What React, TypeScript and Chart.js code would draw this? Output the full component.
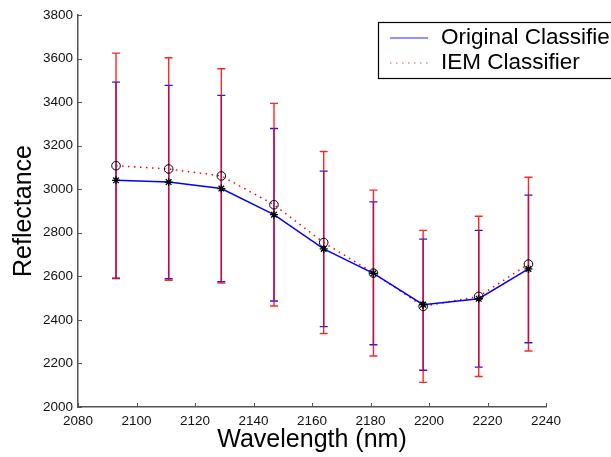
import React, { useEffect, useRef } from "react";
import { Chart, registerables } from "chart.js";

Chart.register(...registerables);

// ---- data ----
const wavelengths = [2093, 2111, 2129, 2147, 2164, 2181, 2198, 2217, 2234];
const originalMeans = [3041, 3033, 3003, 2883, 2726, 2614, 2470, 2497, 2634];
const originalErr = [451, 444, 428, 396, 357, 328, 301, 314, 339];
const iemMeans = [3108, 3093, 3061, 2929, 2755, 2615, 2462, 2508, 2656];
const iemErr = [517, 511, 492, 465, 418, 381, 349, 368, 399];
const seriesNames = ["Original Classifier", "IEM Classifier"];
const xTicks = [2080, 2100, 2120, 2140, 2160, 2180, 2200, 2220, 2240];
const yTicks = [2000, 2200, 2400, 2600, 2800, 3000, 3200, 3400, 3600, 3800];

const FONT = "'Liberation Sans', Arial, Helvetica, sans-serif";
const AXIS_COLOR = "#555";

const errorBarPlugin = {
  id: "errorBars",
  beforeDatasetsDraw(chart: any) {
    const { ctx, scales } = chart;
    const x = scales.x;
    const y = scales.y;
    const groups = [
      { means: originalMeans, errs: originalErr, color: "#1a1aff" },
      { means: iemMeans, errs: iemErr, color: "rgba(255,0,0,0.85)" },
    ];
    ctx.save();
    ctx.lineWidth = 1.4;
    for (const g of groups) {
      ctx.strokeStyle = g.color;
      for (let i = 0; i < wavelengths.length; i++) {
        const px = x.getPixelForValue(wavelengths[i]);
        const top = y.getPixelForValue(g.means[i] + g.errs[i]);
        const bot = y.getPixelForValue(g.means[i] - g.errs[i]);
        ctx.beginPath();
        ctx.moveTo(px, top);
        ctx.lineTo(px, bot);
        ctx.moveTo(px - 4, top);
        ctx.lineTo(px + 4, top);
        ctx.moveTo(px - 4, bot);
        ctx.lineTo(px + 4, bot);
        ctx.stroke();
      }
    }
    ctx.restore();
  },
};

const inwardTicksPlugin = {
  id: "inwardTicks",
  afterDraw(chart: any) {
    const { ctx, scales, chartArea } = chart;
    ctx.save();
    ctx.strokeStyle = AXIS_COLOR;
    ctx.lineWidth = 1;
    ctx.beginPath();
    for (const v of xTicks) {
      const px = Math.round(scales.x.getPixelForValue(v)) + 0.5;
      ctx.moveTo(px, chartArea.bottom);
      ctx.lineTo(px, chartArea.bottom - 4);
    }
    for (const v of yTicks) {
      const py = Math.round(scales.y.getPixelForValue(v)) + 0.5;
      ctx.moveTo(chartArea.left, py);
      ctx.lineTo(chartArea.left + 4, py);
    }
    ctx.stroke();
    ctx.restore();
  },
};

const legendPlugin = {
  id: "customLegend",
  afterDraw(chart: any) {
    const { ctx } = chart;
    ctx.save();
    ctx.fillStyle = "#fff";
    ctx.fillRect(378, 22, 260, 57);
    ctx.strokeStyle = "#000";
    ctx.lineWidth = 1.2;
    ctx.strokeRect(378.5, 22.5, 260, 56);
    // sample lines
    ctx.lineWidth = 1.5;
    ctx.strokeStyle = "#7070ff";
    ctx.beginPath();
    ctx.moveTo(390, 38);
    ctx.lineTo(428, 38);
    ctx.stroke();
    ctx.strokeStyle = "#ff8080";
    ctx.setLineDash([1.5, 4.5]);
    ctx.beginPath();
    ctx.moveTo(390, 63);
    ctx.lineTo(428, 63);
    ctx.stroke();
    ctx.setLineDash([]);
    ctx.fillStyle = "#000";
    ctx.font = `22.5px ${FONT}`;
    ctx.textBaseline = "middle";
    ctx.textAlign = "left";
    ctx.fillText(seriesNames[0], 441, 38);
    ctx.fillText(seriesNames[1], 441, 63);
    ctx.restore();
  },
};

export default function App() {
  const ref = useRef<HTMLCanvasElement | null>(null);

  useEffect(() => {
    document.body.style.margin = "0";
    const canvas = ref.current;
    if (!canvas) return;
    const chart = new Chart(canvas, {
      type: "line",
      data: {
        datasets: [
          {
            label: seriesNames[0],
            data: wavelengths.map((w, i) => ({ x: w, y: originalMeans[i] })),
            borderColor: "#0000ff",
            borderWidth: 1.5,
            pointStyle: "star",
            pointRadius: 4,
            pointBorderColor: "#000",
            pointBackgroundColor: "#000",
            pointBorderWidth: 1.3,
            tension: 0,
          },
          {
            label: seriesNames[1],
            data: wavelengths.map((w, i) => ({ x: w, y: iemMeans[i] })),
            borderColor: "#ff0000",
            borderWidth: 1.5,
            borderDash: [1.5, 4.5],
            pointStyle: "circle",
            pointRadius: 4.3,
            pointBorderColor: "#000",
            pointBackgroundColor: "rgba(0,0,0,0)",
            pointBorderWidth: 1,
            tension: 0,
          },
        ],
      },
      options: {
        responsive: false,
        animation: false,
        devicePixelRatio: 1,
        layout: { padding: { top: 15, right: 65, left: 0, bottom: 0 } },
        plugins: {
          legend: { display: false },
          tooltip: { enabled: false },
        },
        scales: {
          x: {
            type: "linear",
            min: 2080,
            max: 2240,
            afterBuildTicks: (s: any) => {
              s.ticks = xTicks.map((v) => ({ value: v }));
            },
            afterFit: (s: any) => {
              s.height = 50;
            },
            grid: { display: false, drawTicks: false },
            border: { display: true, color: AXIS_COLOR, width: 1.5 },
            ticks: {
              color: "#111",
              font: { family: FONT, size: 13.5 },
              padding: 6,
              maxRotation: 0,
              autoSkip: false,
              callback: (v: any) => String(v),
            },
            title: {
              display: true,
              text: "Wavelength (nm)",
              color: "#000",
              font: { family: FONT, size: 25 },
              padding: { top: 0, bottom: 2 },
            },
          },
          y: {
            type: "linear",
            min: 2000,
            max: 3800,
            afterBuildTicks: (s: any) => {
              s.ticks = yTicks.map((v) => ({ value: v }));
            },
            afterFit: (s: any) => {
              s.width = 78;
            },
            grid: { display: false, drawTicks: false },
            border: { display: true, color: AXIS_COLOR, width: 1.5 },
            ticks: {
              color: "#111",
              font: { family: FONT, size: 13.5 },
              padding: 5,
              autoSkip: false,
              callback: (v: any) => String(v),
            },
            title: {
              display: true,
              text: "Reflectance",
              color: "#000",
              font: { family: FONT, size: 25 },
              padding: { top: 9, bottom: 0 },
            },
          },
        },
      },
      plugins: [errorBarPlugin, inwardTicksPlugin, legendPlugin],
    } as any);
    return () => chart.destroy();
  }, []);

  return (
    <div style={{ width: 611, height: 457, background: "#fff" }}>
      <canvas ref={ref} width={611} height={457} style={{ display: "block" }} />
    </div>
  );
}
